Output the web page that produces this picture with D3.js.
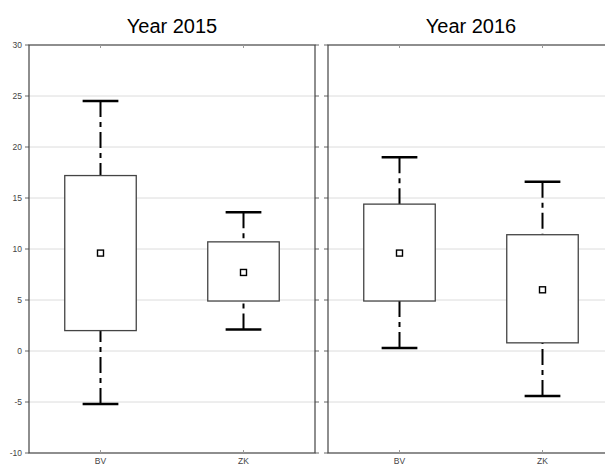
<!DOCTYPE html>
<html>
<head>
<meta charset="utf-8">
<script src="https://cdn.jsdelivr.net/npm/d3@7"></script>
<style>
  body { margin: 0; background: #fff; }
  svg { display: block; font-family: "Liberation Sans", Arial, sans-serif; }
</style>
</head>
<body>
<script>
// categories and panels
const categories = ["BV", "ZK"];
const years = ["Year 2015", "Year 2016"];

// box stats per panel
const lo2015 = [-5.2, 2.1];
const q1_2015 = [2.0, 4.9];
const mean2015 = [9.6, 7.7];
const q3_2015 = [17.2, 10.7];
const hi2015 = [24.5, 13.6];

const lo2016 = [0.3, -4.4];
const q1_2016 = [4.9, 0.8];
const mean2016 = [9.6, 6.0];
const q3_2016 = [14.4, 11.4];
const hi2016 = [19.0, 16.6];

const yTicks = [-10, -5, 0, 5, 10, 15, 20, 25, 30];

const panels = [
  { title: years[0], lo: lo2015, q1: q1_2015, mean: mean2015, q3: q3_2015, hi: hi2015 },
  { title: years[1], lo: lo2016, q1: q1_2016, mean: mean2016, q3: q3_2016, hi: hi2016 }
];

const W = 605, H = 467;
const plotTop = 45, plotBottom = 453;
const panelX = [29, 328];
const panelW = 286;

const svg = d3.select("body").append("svg")
  .attr("width", W)
  .attr("height", H);

const y = d3.scaleLinear().domain([-10, 30]).range([plotBottom, plotTop]);

panels.forEach((p, pi) => {
  const x0 = panelX[pi];
  const x = d3.scaleBand().domain(categories).range([x0, x0 + panelW]).padding(0);
  const g = svg.append("g");

  // gridlines
  g.selectAll(".grid").data(yTicks.filter(t => t > -10 && t < 30)).enter()
    .append("line")
    .attr("x1", x0).attr("x2", x0 + panelW)
    .attr("y1", d => y(d)).attr("y2", d => y(d))
    .attr("stroke", "#dcdcdc").attr("stroke-width", 1);

  // outward y ticks on both sides
  [x0, x0 + panelW].forEach((ex, si) => {
    g.selectAll(".yt" + si).data(yTicks).enter()
      .append("line")
      .attr("x1", ex).attr("x2", si === 0 ? ex - 4 : ex + 4)
      .attr("y1", d => y(d)).attr("y2", d => y(d))
      .attr("stroke", "#666").attr("stroke-width", 1);
  });

  // frame
  g.append("rect")
    .attr("x", x0).attr("y", plotTop)
    .attr("width", panelW).attr("height", plotBottom - plotTop)
    .attr("fill", "none").attr("stroke", "#444").attr("stroke-width", 1.2);

  // category ticks (inward, top and bottom)
  categories.forEach(c => {
    const cx = x(c) + x.bandwidth() / 2;
    g.append("line").attr("x1", cx).attr("x2", cx).attr("y1", plotTop).attr("y2", plotTop + 3)
      .attr("stroke", "#999");
    g.append("line").attr("x1", cx).attr("x2", cx).attr("y1", plotBottom).attr("y2", plotBottom - 3)
      .attr("stroke", "#999");
    g.append("text")
      .attr("x", cx).attr("y", plotBottom + 11)
      .attr("text-anchor", "middle")
      .attr("font-size", 8.5).attr("fill", "#444")
      .text(c);
  });

  // y labels on left panel only
  if (pi === 0) {
    g.selectAll(".yl").data(yTicks).enter()
      .append("text")
      .attr("x", x0 - 7).attr("y", d => y(d) + 3)
      .attr("text-anchor", "end")
      .attr("font-size", 8.5).attr("fill", "#444")
      .text(d => d);
  }

  // title
  g.append("text")
    .attr("x", x0 + panelW / 2).attr("y", 33)
    .attr("text-anchor", "middle")
    .attr("font-size", 20).attr("fill", "#000")
    .text(p.title);

  // boxes
  categories.forEach((c, i) => {
    const bw = x.bandwidth();
    const cx = x(c) + bw / 2;
    const boxW = bw * 0.5;
    const capW = bw * 0.25;

    // whiskers, dash starts at cap
    g.append("line")
      .attr("x1", cx).attr("x2", cx)
      .attr("y1", y(p.hi[i])).attr("y2", y(p.q3[i]))
      .attr("stroke", "#000").attr("stroke-width", 2)
      .attr("stroke-dasharray", "16,5,5,5");
    g.append("line")
      .attr("x1", cx).attr("x2", cx)
      .attr("y1", y(p.lo[i])).attr("y2", y(p.q1[i]))
      .attr("stroke", "#000").attr("stroke-width", 2)
      .attr("stroke-dasharray", "16,5,5,5");

    // caps
    [p.hi[i], p.lo[i]].forEach(v => {
      g.append("line")
        .attr("x1", cx - capW / 2).attr("x2", cx + capW / 2)
        .attr("y1", y(v)).attr("y2", y(v))
        .attr("stroke", "#000").attr("stroke-width", 2.5);
    });

    // box
    g.append("rect")
      .attr("x", cx - boxW / 2).attr("y", y(p.q3[i]))
      .attr("width", boxW).attr("height", y(p.q1[i]) - y(p.q3[i]))
      .attr("fill", "#fff").attr("stroke", "#444").attr("stroke-width", 1.3);

    // mean marker
    g.append("rect")
      .attr("x", cx - 3).attr("y", y(p.mean[i]) - 3)
      .attr("width", 6).attr("height", 6)
      .attr("fill", "#fff").attr("stroke", "#000").attr("stroke-width", 1.4);
  });
});
</script>
</body>
</html>
